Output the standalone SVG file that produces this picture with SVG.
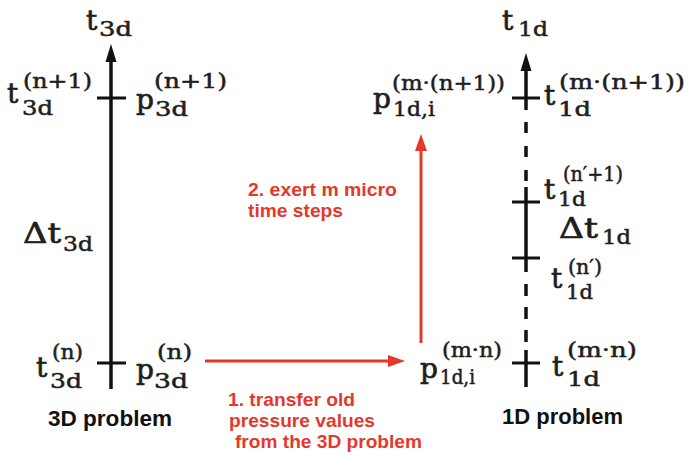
<svg xmlns="http://www.w3.org/2000/svg" width="689" height="456" viewBox="0 0 689 456">
<style>
.m{font-family:"DejaVu Serif","Liberation Serif",serif;font-size:28px;fill:#1e1e1e;stroke:#1e1e1e;stroke-width:0.7}
.s{font-family:"DejaVu Serif","Liberation Serif",serif;font-size:20px;fill:#1e1e1e;stroke:#1e1e1e;stroke-width:0.5}
.lab{font-family:"Liberation Sans",Arial,sans-serif;font-weight:bold;font-size:22px;fill:#111}
.red{font-family:"Liberation Sans",Arial,sans-serif;font-weight:bold;font-size:19px;fill:#e2392c}
.ax{stroke:#111;stroke-width:3.5;fill:none}
.tick{stroke:#111;stroke-width:3;fill:none}
.ra{stroke:#e2392c;stroke-width:3;fill:none}
</style>
<defs>
<marker id="ah" markerUnits="userSpaceOnUse" markerWidth="18" markerHeight="12" refX="0" refY="6" orient="auto">
<path d="M0,0.5 L18,6 L0,11.5 z" fill="#111"/>
</marker>
<marker id="rh" markerUnits="userSpaceOnUse" markerWidth="18" markerHeight="13" refX="0" refY="6.5" orient="auto">
<path d="M0,0.5 L17,6.5 L0,12.5 z" fill="#e2392c"/>
</marker>
</defs>
<g id="connectors">
<line id="axis3d" class="ax" x1="111" y1="389" x2="111" y2="62" marker-end="url(#ah)"/>
<line class="tick" x1="97" y1="98" x2="126" y2="98"/>
<line class="tick" x1="97" y1="363" x2="126" y2="363"/>
<g id="axis1d">
<line class="ax" x1="526" y1="110" x2="526" y2="71" marker-end="url(#ah)"/>
<line class="ax" x1="526" y1="122" x2="526" y2="187" stroke-dasharray="11 13"/>
<line class="ax" x1="526" y1="187" x2="526" y2="272"/>
<line class="ax" x1="526" y1="284" x2="526" y2="350" stroke-dasharray="12 11"/>
<line class="ax" x1="526" y1="350" x2="526" y2="387"/>
<line class="tick" x1="512" y1="98" x2="540" y2="98"/>
<line class="tick" x1="512" y1="202" x2="540" y2="202"/>
<line class="tick" x1="512" y1="258" x2="540" y2="258"/>
<line class="tick" x1="512" y1="363" x2="540" y2="363"/>
</g>
<line id="transfer" class="ra" x1="205" y1="361" x2="388" y2="361" marker-end="url(#rh)"/>
<line id="micro" class="ra" x1="421" y1="343" x2="421" y2="151" marker-end="url(#rh)"/>
</g>
<g id="t3d-top"><text class="m" x="86" y="30">t</text><text class="s" x="99" y="36" textLength="33" lengthAdjust="spacingAndGlyphs">3d</text></g>
<g id="t3d-n1"><text class="m" x="7" y="103">t</text><text class="s" x="22" y="115" textLength="31" lengthAdjust="spacingAndGlyphs">3d</text><text class="s" x="23" y="88" textLength="69" lengthAdjust="spacingAndGlyphs">(n+1)</text></g>
<g id="p3d-n1"><text class="m" x="136" y="109">p</text><text class="s" x="155" y="116" textLength="33" lengthAdjust="spacingAndGlyphs">3d</text><text class="s" x="154" y="88" textLength="73" lengthAdjust="spacingAndGlyphs">(n+1)</text></g>
<g id="dt3d"><text class="m" x="23" y="243" textLength="38" lengthAdjust="spacingAndGlyphs">Δt</text><text class="s" x="63" y="251" textLength="30" lengthAdjust="spacingAndGlyphs">3d</text></g>
<g id="t3d-n"><text class="m" x="36" y="377">t</text><text class="s" x="50" y="388" textLength="32" lengthAdjust="spacingAndGlyphs">3d</text><text class="s" x="52" y="359" textLength="31" lengthAdjust="spacingAndGlyphs">(n)</text></g>
<g id="p3d-n"><text class="m" x="136" y="379">p</text><text class="s" x="154" y="388" textLength="34" lengthAdjust="spacingAndGlyphs">3d</text><text class="s" x="157" y="359" textLength="35" lengthAdjust="spacingAndGlyphs">(n)</text></g>
<g id="label3d"><text class="lab" x="48" y="426" textLength="124" lengthAdjust="spacingAndGlyphs">3D problem</text></g>
<g id="t1d-top"><text class="m" x="502" y="30">t</text><text class="s" x="518" y="36" textLength="30" lengthAdjust="spacingAndGlyphs">1d</text></g>
<g id="p1d-mn1"><text class="m" x="373" y="108">p</text><text class="s" x="393" y="116" textLength="42" lengthAdjust="spacingAndGlyphs">1d,i</text><text class="s" x="392" y="90" textLength="113" lengthAdjust="spacingAndGlyphs">(m·(n+1))</text></g>
<g id="t1d-mn1"><text class="m" x="544" y="105">t</text><text class="s" x="558" y="116" textLength="33" lengthAdjust="spacingAndGlyphs">1d</text><text class="s" x="559" y="89" textLength="126" lengthAdjust="spacingAndGlyphs">(m·(n+1))</text></g>
<g id="t1d-np1"><text class="m" x="544" y="199">t</text><text class="s" x="558" y="206" textLength="28" lengthAdjust="spacingAndGlyphs">1d</text><text class="s" x="563" y="181" textLength="60" lengthAdjust="spacingAndGlyphs">(n′+1)</text></g>
<g id="dt1d"><text class="m" x="559" y="238" textLength="39" lengthAdjust="spacingAndGlyphs">Δt</text><text class="s" x="602" y="244" textLength="29" lengthAdjust="spacingAndGlyphs">1d</text></g>
<g id="t1d-np"><text class="m" x="551" y="288">t</text><text class="s" x="566" y="299" textLength="27" lengthAdjust="spacingAndGlyphs">1d</text><text class="s" x="568" y="274" textLength="34" lengthAdjust="spacingAndGlyphs">(n′)</text></g>
<g id="p1d-mn"><text class="m" x="420" y="378">p</text><text class="s" x="440" y="384" textLength="35" lengthAdjust="spacingAndGlyphs">1d,i</text><text class="s" x="442" y="357" textLength="60" lengthAdjust="spacingAndGlyphs">(m·n)</text></g>
<g id="t1d-mn"><text class="m" x="552" y="376">t</text><text class="s" x="567" y="386" textLength="33" lengthAdjust="spacingAndGlyphs">1d</text><text class="s" x="567" y="357" textLength="70" lengthAdjust="spacingAndGlyphs">(m·n)</text></g>
<g id="label1d"><text class="lab" x="502" y="424" textLength="121" lengthAdjust="spacingAndGlyphs">1D problem</text></g>
<g id="note2"><text class="red" x="248" y="196" textLength="149" lengthAdjust="spacingAndGlyphs">2. exert m micro</text><text class="red" x="248" y="217" textLength="95" lengthAdjust="spacingAndGlyphs">time steps</text></g>
<g id="note1"><text class="red" x="228" y="406" textLength="127" lengthAdjust="spacingAndGlyphs">1. transfer old</text><text class="red" x="229" y="427" textLength="146" lengthAdjust="spacingAndGlyphs">pressure values</text><text class="red" x="235" y="448" textLength="187" lengthAdjust="spacingAndGlyphs">from the 3D problem</text></g>
</svg>
